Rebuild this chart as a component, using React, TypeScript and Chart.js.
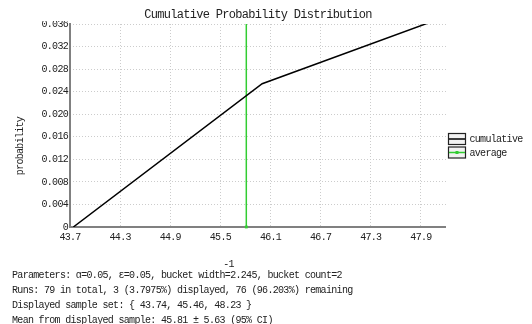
import React, { useEffect, useRef } from 'react';
import { Chart, registerables } from 'chart.js';

Chart.register(...registerables);

const TITLE = 'Cumulative Probability Distribution';
const Y_TITLE = 'probability';
const X_TITLE = '-1';

const seriesLabels = ['cumulative', 'average'];
const cumulativeX = [43.74, 46.0, 48.23];
const cumulativeY = [0, 0.0254, 0.0375];
const averageX = [45.81, 45.81];
const averageY = [0, 0.036];

const X_MIN = 43.7;
const X_MAX = 48.2;
const Y_MIN = 0;
const Y_MAX = 0.036;

const xTickValues = [43.7, 44.3, 44.9, 45.5, 46.1, 46.7, 47.3, 47.9];
const xTickLabels = ['43.7', '44.3', '44.9', '45.5', '46.1', '46.7', '47.3', '47.9'];
const yTickValues = [0, 0.004, 0.008, 0.012, 0.016, 0.02, 0.024, 0.028, 0.032, 0.036];
const yTickLabels = ['0', '0.004', '0.008', '0.012', '0.016', '0.020', '0.024', '0.028', '0.032', '0.036'];

const infoLines = [
  'Parameters: α=0.05, ε=0.05, bucket width=2.245, bucket count=2',
  'Runs: 79 in total, 3 (3.7975%) displayed, 76 (96.203%) remaining',
  'Displayed sample set: { 43.74, 45.46, 48.23 }',
  'Mean from displayed sample: 45.81 ± 5.63 (95% CI)',
];

const FONT = "'Liberation Mono', 'DejaVu Sans Mono', monospace";
const TEXT_COLOR = '#222';
const GREEN = '#32cd32';

const decor = {
  id: 'decor',
  beforeDraw(chart: any) {
    (chart.ctx as any).letterSpacing = '-0.7px';
  },
  beforeDatasetsDraw(chart: any) {
    const { ctx, chartArea: a } = chart;
    ctx.save();
    ctx.strokeStyle = '#808080';
    ctx.lineWidth = 2;
    ctx.beginPath();
    ctx.moveTo(a.left, a.top - 1);
    ctx.lineTo(a.left, a.bottom + 1);
    ctx.moveTo(a.left - 1, a.bottom);
    ctx.lineTo(a.right, a.bottom);
    ctx.stroke();
    ctx.restore();
  },
  afterDraw(chart: any) {
    const { ctx, chartArea: a } = chart;
    ctx.save();
    // top label clipped like the reference
    ctx.fillStyle = '#fff';
    ctx.fillRect(0, 0, a.left - 1, a.top - 3);

    ctx.fillStyle = TEXT_COLOR;
    ctx.font = `10px ${FONT}`;
    ctx.textBaseline = 'middle';
    // y-axis title
    ctx.save();
    ctx.translate(20.5, a.top + 122);
    ctx.rotate(-Math.PI / 2);
    ctx.textAlign = 'center';
    ctx.fillText(Y_TITLE, 0, 0);
    ctx.restore();
    // x-axis title
    ctx.textAlign = 'center';
    ctx.fillText(X_TITLE, a.left + 158.5, 264);

    // legend
    const lx = a.right + 2.5;
    const ly0 = a.top + 109.5;
    chart.data.datasets.forEach((ds: any, i: number) => {
      const y = ly0 + i * 13.5;
      ctx.fillStyle = '#f2f2f2';
      ctx.fillRect(lx, y, 17, 11);
      ctx.strokeStyle = '#222';
      ctx.lineWidth = 1.2;
      ctx.strokeRect(lx, y, 17, 11);
      ctx.strokeStyle = ds.borderColor;
      ctx.lineWidth = 1.5;
      ctx.beginPath();
      ctx.moveTo(lx + 0.5, y + 5.5);
      ctx.lineTo(lx + 16.5, y + 5.5);
      ctx.stroke();
      if (i === 1) {
        ctx.fillStyle = ds.borderColor;
        ctx.fillRect(lx + 7, y + 4, 3, 3);
      }
      ctx.fillStyle = TEXT_COLOR;
      ctx.textAlign = 'left';
      ctx.fillText(ds.label, lx + 21, y + 6);
    });
    ctx.restore();
  },
};

export default function App() {
  const canvasRef = useRef<HTMLCanvasElement | null>(null);

  useEffect(() => {
    const canvas = canvasRef.current;
    if (!canvas) return;
    const chart = new Chart(canvas, {
      type: 'line',
      data: {
        datasets: [
          {
            label: seriesLabels[0],
            data: cumulativeX.map((x, i) => ({ x, y: cumulativeY[i] })),
            borderColor: '#000',
            borderWidth: 1.5,
            pointRadius: 0,
            tension: 0,
          },
          {
            label: seriesLabels[1],
            data: averageX.map((x, i) => ({ x, y: averageY[i] })),
            borderColor: GREEN,
            backgroundColor: GREEN,
            borderWidth: 1.5,
            pointStyle: 'rect',
            pointRadius: [2, 0],
            pointBorderWidth: 0,
            clip: false as any,
          },
        ],
      },
      options: {
        responsive: false,
        animation: false,
        layout: { padding: { left: 0, right: 86, top: 0, bottom: 0 } },
        plugins: {
          legend: { display: false },
          tooltip: { enabled: false },
          title: {
            display: true,
            text: TITLE,
            fullSize: false,
            color: TEXT_COLOR,
            font: { family: FONT, size: 12, weight: 'normal', lineHeight: 1.2 },
            padding: { top: 7.8, bottom: 1.8 },
          },
        },
        scales: {
          x: {
            type: 'linear',
            min: X_MIN,
            max: X_MAX,
            afterBuildTicks: (s: any) => {
              s.ticks = xTickValues.map((value) => ({ value }));
            },
            afterFit: (s: any) => {
              s.height = 97;
            },
            ticks: {
              autoSkip: false,
              maxRotation: 0,
              padding: 4,
              color: TEXT_COLOR,
              font: { family: FONT, size: 10 },
              callback: (_v: any, i: number) => xTickLabels[i],
            },
            grid: { color: '#cccccc', lineWidth: 1, drawTicks: false },
            border: { display: false, dash: [1, 2] },
          },
          y: {
            type: 'linear',
            min: Y_MIN,
            max: Y_MAX,
            afterBuildTicks: (s: any) => {
              s.ticks = yTickValues.map((value) => ({ value }));
            },
            afterFit: (s: any) => {
              s.width = 70;
            },
            ticks: {
              autoSkip: false,
              padding: 2,
              color: TEXT_COLOR,
              font: { family: FONT, size: 10 },
              callback: (_v: any, i: number) => yTickLabels[i],
            },
            grid: { color: '#cccccc', lineWidth: 1, drawTicks: false },
            border: { display: false, dash: [1, 2] },
          },
        },
      },
      plugins: [decor],
    });
    return () => chart.destroy();
  }, []);

  return (
    <div style={{ position: 'absolute', left: 0, top: 0, width: 532, height: 324, background: '#fff' }}>
      <canvas ref={canvasRef} width={532} height={324} style={{ display: 'block' }} />
      <div
        style={{
          position: 'absolute',
          left: 12,
          top: 267.5,
          fontFamily: FONT,
          fontSize: 10,
          letterSpacing: '-0.68px',
          lineHeight: '15px',
          color: TEXT_COLOR,
          whiteSpace: 'pre',
        }}
      >
        {infoLines.map((line, i) => (
          <div key={i}>{line}</div>
        ))}
      </div>
    </div>
  );
}
